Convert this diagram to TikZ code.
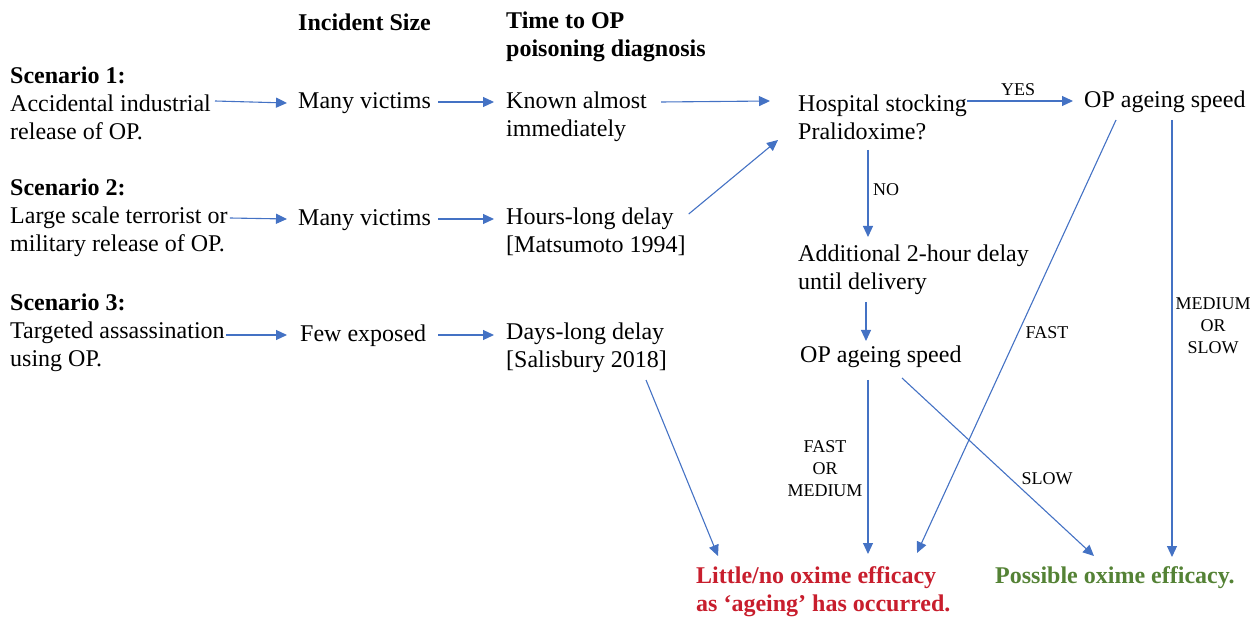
\documentclass[tikz,border=0pt]{standalone}
\usepackage{fontspec}
\setmainfont{Liberation Serif}
\usetikzlibrary{arrows.meta,calc}
\definecolor{arr}{RGB}{68,114,196}
\definecolor{redt}{RGB}{200,30,45}
\definecolor{greent}{RGB}{84,130,53}
\begin{document}
\begin{tikzpicture}[x=1pt,y=-1pt,
  txt/.style={inner sep=0pt,anchor=west,align=left,font=\fontsize{24}{28}\selectfont},
  head/.style={txt,font=\fontsize{24}{28}\selectfont\bfseries},
  lbl/.style={inner sep=0pt,align=center,font=\fontsize{18}{22}\selectfont},
  res/.style={inner sep=0pt,anchor=west,align=left,font=\fontsize{24}{28}\selectfont\bfseries},
  link/.style={draw=arr,line width=1.1pt,-{Triangle[length=11pt,width=10pt]}}]
\useasboundingbox (0,0) rectangle (1256,617);
% headings
\node[head] (h1) at (298,22) {Incident Size};
\node[head] (h2) at (506,36.5) {Time to OP\\poisoning diagnosis};
% scenario 1
\node[txt] (s1) at (10,103) {\textbf{Scenario 1:}\\Accidental industrial\\release of OP.};
\node[txt] (mv1) at (298,103) {Many victims};
\node[txt] (k1) at (506,117) {Known almost\\immediately};
\node[txt] (hosp) at (798,117) {Hospital stocking\\Pralidoxime?};
\node[txt] (age1) at (1084,102) {OP ageing speed};
% scenario 2
\node[txt] (s2) at (10,218) {\textbf{Scenario 2:}\\Large scale terrorist or\\military release of OP.};
\node[txt] (mv2) at (298,220) {Many victims};
\node[txt] (k2) at (506,232) {Hours-long delay\\{[}Matsumoto 1994{]}};
\node[txt] (add) at (798,270) {Additional 2-hour delay\\until delivery};
% scenario 3
\node[txt] (s3) at (10,333) {\textbf{Scenario 3:}\\Targeted assassination\\using OP.};
\node[txt] (fe) at (300,336) {Few exposed};
\node[txt] (k3) at (506,348) {Days-long delay\\{[}Salisbury 2018{]}};
\node[txt] (age2) at (800,357) {OP ageing speed};
% results
\node[res,text=redt] (bad) at (696,592) {Little/no oxime efficacy\\as `ageing' has occurred.};
\node[res,text=greent] (good) at (995,578) {Possible oxime efficacy.};
% labels
\node[lbl] (yes) at (1018,90) {YES};
\node[lbl,anchor=west] (no) at (873,190) {NO};
\node[lbl] (fast1) at (1047,333) {FAST};
\node[lbl] (mos) at (1213,326) {MEDIUM\\OR\\SLOW};
\node[lbl] (fom) at (825,469) {FAST\\OR\\MEDIUM};
\node[lbl] (slow) at (1047,479) {SLOW};
% arrows
\draw[link] ($(s1.east)+(4,-2)$) -- ($(mv1.west)+(-11,0)$);
\draw[link] ($(mv1.east)+(7,-1)$) -- ($(k1.west|-mv1.west)+(-12,-1)$);
\draw[link] ($(k1.east|-mv1.east)+(14,-1)$) -- ($(hosp.west|-mv1.west)+(-28,-2)$);
\draw[link] ($(s2.east)+(2,0)$) -- ($(mv2.west)+(-11,-1)$);
\draw[link] ($(mv2.east)+(7,-1)$) -- ($(k2.west|-mv2.west)+(-12,-1)$);
\draw[link] ($(k2.east)+(3,-18)$) -- ($(hosp.west)+(-20,23)$);
\draw[link] ($(s3.east)+(1,2)$) -- ($(fe.west)+(-13,-1)$);
\draw[link] ($(fe.east)+(12,-1)$) -- ($(k3.west|-fe.west)+(-12,-1)$);
\draw[link] ($(hosp.east|-age1.west)+(0,-1)$) -- ($(age1.west)+(-11,-1)$);
\draw[link] (hosp.west|-0,150) ++(70,0) -- ($(hosp.west|-0,237)+(70,0)$);
\draw[link] ($(add.west|-0,302)+(68,0)$) -- ($(add.west|-0,341)+(68,0)$);
\draw[link] ($(age1.west|-0,120)+(32,0)$) -- ($(bad.west|-0,553)+(221,0)$);
\draw[link] ($(age1.west|-0,120)+(88,0)$) -- ($(good.west|-0,557)+(177,0)$);
\draw[link] ($(age2.west|-0,380)+(68,0)$) -- ($(bad.west|-0,554)+(172,0)$);
\draw[link] ($(age2.west|-0,378)+(102,0)$) -- ($(good.west|-0,556)+(99,0)$);
\draw[link] ($(k3.west|-0,380)+(140,0)$) -- ($(bad.west|-0,556)+(22,0)$);
\end{tikzpicture}
\end{document}
